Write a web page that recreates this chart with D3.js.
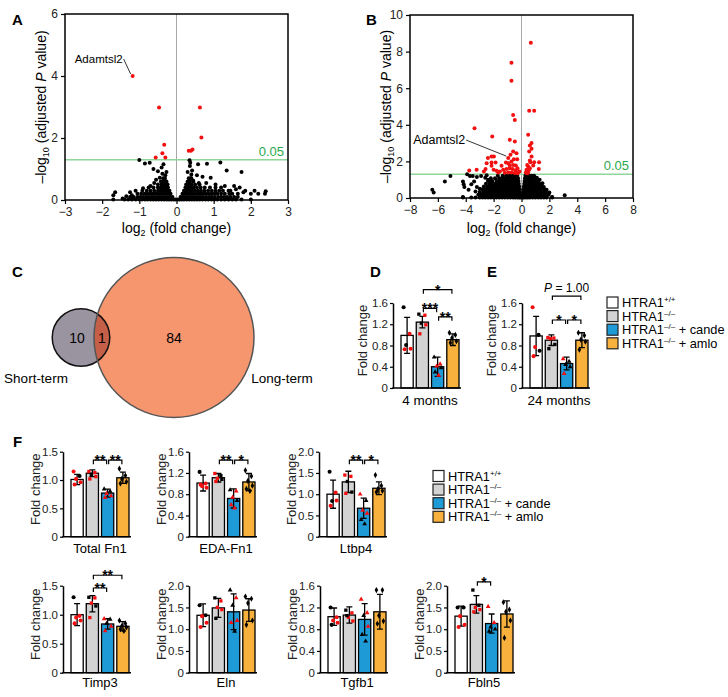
<!DOCTYPE html>
<html>
<head>
<meta charset="utf-8">
<script src="https://cdn.jsdelivr.net/npm/d3@7"></script>
<style>
  body { margin: 0; background: #fff; }
  svg { font-family: "Liberation Sans", Arial, Helvetica, sans-serif; }
</style>
</head>
<body>
<script>
// ---------- A: short-term volcano ----------
const aRed = [[-1.18,4.0],[-0.47,2.98],[0.63,2.98],[0.67,2.02],[-0.33,1.78],[-0.38,1.51],[-0.56,1.37],[-0.30,1.37],[0.33,1.59],[0.39,1.59],[0.43,1.63]];
const aBlack = [[-1.0,1.29],[-0.85,1.18],[-0.72,1.2],[-0.62,1.0],[-0.5,0.93],[-0.4,1.05],[-0.35,1.15],[-0.38,0.85],[-0.3,0.8],[-0.27,0.9],
  [-0.45,0.72],[-0.55,0.65],[-0.6,0.55],[-0.7,0.45],[-0.9,0.38],[-1.1,0.3],[-1.25,0.25],[-1.65,0.25],[-1.7,0.15],[-1.45,0.05],[-1.2,0.15],[-1.35,0.12],
  [0.35,1.28],[0.37,1.2],[0.36,1.1],[0.58,1.15],[0.82,1.17],[1.18,1.21],[0.42,0.95],[0.55,0.8],[0.7,0.75],[0.92,0.72],[1.35,0.95],[1.75,0.9],
  [0.45,0.62],[0.6,0.55],[0.8,0.55],[1.05,0.5],[1.3,0.45],[1.55,0.45],[1.7,0.4],[1.85,0.3],[2.0,0.2],[2.2,0.2],[2.4,0.28],[2.38,0.2],
  [1.65,0.2],[1.8,0.25],[2.1,0.3],[1.6,0.35],[1.45,0.3],[0.4,0.82],[0.3,0.9],[0.38,0.7]];
// dense cloud, one row per -log10 level
const aCoreRows = [
  [0.02, [-1.7,-1.4,-1.3,-1.2,-1.1,-1.0,-0.93,-0.85,-0.78,-0.7,-0.62,-0.55,-0.48,-0.4,-0.33,-0.26,-0.2,-0.14,-0.08,-0.03,0.03,0.08,0.14,0.2,0.27,0.34,0.41,0.48,0.55,0.62,0.7,0.78,0.86,0.94,1.02,1.1,1.2,1.3,1.4,1.5,1.6,1.75,2.0]],
  [0.1, [-1.25,-1.15,-1.05,-0.97,-0.9,-0.82,-0.75,-0.67,-0.6,-0.52,-0.45,-0.38,-0.31,-0.24,-0.17,-0.11,0.11,0.17,0.23,0.3,0.37,0.44,0.51,0.58,0.65,0.72,0.8,0.88,0.95,1.03,1.12,1.2,1.28,1.36,1.45,1.55,1.65]],
  [0.2, [-1.05,-0.95,-0.86,-0.78,-0.7,-0.63,-0.56,-0.49,-0.42,-0.35,-0.28,-0.21,-0.16,0.16,0.21,0.27,0.34,0.41,0.48,0.56,0.63,0.7,0.78,0.86,0.94,1.02,1.1,1.2,1.3,1.42,1.5]],
  [0.3, [-0.92,-0.8,-0.7,-0.6,-0.5,-0.43,-0.36,-0.3,-0.24,-0.19,0.2,0.25,0.3,0.36,0.43,0.5,0.58,0.66,0.75,0.85,0.95,1.05,1.15,1.25,1.4]],
  [0.4, [-0.75,-0.62,-0.5,-0.42,-0.35,-0.29,-0.23,0.24,0.3,0.38,0.46,0.55,0.65,0.76,0.9,1.05,1.2]],
  [0.5, [-0.5,-0.4,-0.33,-0.27,-0.24,0.26,0.32,0.4,0.5,0.62]],
  [0.6, [-0.42,-0.35,-0.3,-0.27,0.3,0.36,0.45]],
  [0.7, [-0.36,-0.31,0.33,0.4]]
];

// ---------- B: long-term volcano ----------
const bRed = [[0.67,8.48],[-0.72,7.39],[-0.72,6.41],[-0.6,4.54],[-0.48,4.26],[0.55,4.77],[0.91,4.77],[-3.37,3.81],[-2.1,3.36],[0.48,3.45],
  [-0.84,3.18],[-0.48,3.09],[0.72,3.0],[0.6,2.87],[0.72,2.69],[0.55,2.54],[-0.6,2.54],[-0.36,2.45],[-0.79,2.36],[-2.15,2.27],[-1.98,2.27],
  [-2.41,2.18],[-0.95,2.18],[-0.55,2.12],[-0.31,2.12],[0.6,2.05],[-2.5,1.9],[-2.15,1.94],[-1.86,1.94],[-0.95,1.9],[-0.72,2.0],[0.64,1.96],
  [0.91,1.96],[1.26,1.96],[-2.15,1.76],[-1.43,1.76],[-1.12,1.94],[-0.6,1.81],[-0.41,1.78],[-0.84,1.78],[0.84,1.78],[0.48,1.72],[-3.75,1.5],
  [-3.22,1.54],[-2.58,1.58],[-1.79,1.49],[-1.55,1.45],[-1.31,1.54],[-1.07,1.58],[-0.84,1.63],[-0.64,1.58],[-0.43,1.5],[-0.29,1.63],[0.36,1.54],
  [0.6,1.63],[1.24,1.58],[-0.95,1.4],[-0.72,1.4],[-0.48,1.36],[-0.24,1.4],[0.31,1.4],[0.48,1.4],[-1.67,1.4],[-2.7,1.45],[0.41,1.81],[0.72,2.27],
  [-1.2,1.38],[-0.3,1.35],[0.4,1.35],[0.55,1.55],[-2.0,1.55],[-0.15,1.45]];
const bBlack = [[-6.4,0.45],[-6.3,0.3],[-5.5,0.9],[-5.1,1.2],[-4.2,0.9],[-4.15,0.75],[-4.1,0.6],[-4.2,0.05],[-3.9,1.3],[-3.7,1.2],[-3.5,1.2],
  [-3.2,1.15],[-3.4,0.9],[-3.6,0.75],[-3.2,0.6],[-3.0,0.5],[-2.8,0.2],[-2.9,1.2],[-2.6,1.1],[-2.4,1.0],[-2.2,0.9],[3.1,0.15],[2.0,0.3],
  [1.8,0.45],[1.6,0.6],[1.9,0.2],[2.2,0.05],[1.5,0.8],[1.3,1.0],[1.1,1.1],[-3.3,0.35],[-3.8,0.45],[-2.5,1.25],[1.4,0.15]];
const bCoreRows = [
  [0.03, [-4.2,-3.6,-3.3,-3.0,-2.8,-2.6,-2.4,-2.2,-2.0,-1.8,-1.6,-1.4,-1.2,-1.0,-0.8,-0.6,-0.45,-0.3,-0.17,-0.07,0.07,0.17,0.3,0.45,0.6,0.8,1.0,1.2,1.4,1.6,1.8,2.2]],
  [0.18, [-3.1,-2.9,-2.7,-2.5,-2.3,-2.1,-1.9,-1.7,-1.5,-1.3,-1.1,-0.9,-0.7,-0.5,-0.35,-0.2,-0.09,0.09,0.2,0.35,0.5,0.7,0.9,1.1,1.3,1.5,1.7,1.95]],
  [0.33, [-3.0,-2.75,-2.55,-2.35,-2.15,-1.95,-1.75,-1.55,-1.35,-1.15,-0.95,-0.75,-0.55,-0.38,-0.24,-0.11,0.11,0.24,0.38,0.55,0.75,0.95,1.15,1.35,1.55,1.75]],
  [0.48, [-2.8,-2.6,-2.4,-2.2,-2.0,-1.8,-1.6,-1.4,-1.2,-1.0,-0.8,-0.6,-0.42,-0.27,-0.14,0.14,0.27,0.42,0.6,0.8,1.0,1.2,1.4,1.65]],
  [0.63, [-2.7,-2.45,-2.25,-2.05,-1.85,-1.65,-1.45,-1.25,-1.05,-0.85,-0.65,-0.47,-0.32,-0.17,0.17,0.3,0.45,0.65,0.85,1.05,1.25,1.45]],
  [0.78, [-2.55,-2.3,-2.1,-1.9,-1.7,-1.5,-1.3,-1.1,-0.9,-0.7,-0.52,-0.36,-0.2,0.2,0.33,0.5,0.7,0.9,1.1,1.3]],
  [0.93, [-2.4,-2.1,-1.8,-1.6,-1.4,-1.2,-1.0,-0.8,-0.62,-0.45,-0.3,-0.22,0.22,0.36,0.5,0.65,0.8,1.0,1.2]],
  [1.08, [-2.2,-1.9,-1.6,-1.4,-1.2,-1.0,-0.8,-0.62,-0.48,-0.36,-0.25,0.25,0.38,0.52,0.68,0.85,1.05]],
  [1.22, [-1.7,-1.35,-1.1,-0.9,-0.72,-0.56,-0.42,-0.3,0.28,0.4,0.55,0.72,0.9]]
];

// ---------- C: Venn ----------
const vennNames = ["Short-term", "Long-term"];
const vennOnly = [10, 84];
const vennShared = 1;

// ---------- D-F: qPCR bars (groups: +/+, -/-, -/- cande, -/- amlo) ----------
const legendSup = ["+/+", "\u2013/\u2013", "\u2013/\u2013", "\u2013/\u2013"];
const legendSuffix = ["", "", " + cande", " + amlo"];

const d4Mean = [0.99, 1.24, 0.40, 0.91], d4Sd = [0.34, 0.11, 0.18, 0.11];
const d4Pts = [[[1.52,"k"],[1.02,"r"],[0.81,"k"],[0.74,"r"],[0.73,"r"]],
  [[1.39,"k"],[1.37,"r"],[1.22,"k"],[1.19,"r"],[1.02,"r"]],
  [[0.58,"k"],[0.45,"r"],[0.41,"r"],[0.38,"k"],[0.30,"k"],[0.24,"r"]],
  [[1.04,"k"],[1.00,"k"],[0.94,"k"],[0.88,"k"],[0.85,"k"]]];
const d4Sig = [[1,2,1.5,"***"],[2,3,1.34,"**"],[1,3,1.85,"*"]];

const e24Mean = [0.98, 0.90, 0.46, 0.90], e24Sd = [0.37, 0.10, 0.12, 0.14];
const e24Pts = [[[1.52,"r"],[1.0,"k"],[0.77,"r"],[0.70,"k"],[0.60,"r"]],
  [[0.95,"r"],[0.94,"r"],[0.93,"r"],[0.82,"k"],[0.74,"k"]],
  [[0.55,"r"],[0.50,"k"],[0.44,"k"],[0.40,"k"],[0.27,"r"]],
  [[1.04,"k"],[0.99,"k"],[0.91,"k"],[0.87,"k"],[0.72,"k"]]];
const e24Sig = [[1,2,1.28,"*"],[2,3,1.28,"*"],[1,3,1.73,"P"]];

const fn1Mean = [1.01, 1.12, 0.77, 1.04], fn1Sd = [0.09, 0.06, 0.07, 0.10];
const fn1Pts = [[[1.15,"r"],[1.07,"k"],[1.02,"r"],[0.96,"r"],[0.92,"r"]],
  [[1.15,"r"],[1.13,"r"],[1.10,"k"],[1.06,"r"],[1.02,"r"]],
  [[0.84,"k"],[0.80,"k"],[0.76,"r"],[0.72,"r"],[0.69,"r"]],
  [[1.20,"k"],[1.08,"k"],[1.02,"k"],[0.97,"k"],[0.94,"k"]]];
const fn1Sig = [[1,2,1.35,"**"],[2,3,1.35,"**"]];

const edaMean = [1.01, 1.11, 0.72, 1.03], edaSd = [0.15, 0.08, 0.18, 0.16];
const edaPts = [[[1.22,"k"],[1.0,"r"],[0.95,"r"],[0.92,"r"],[0.98,"r"]],
  [[1.19,"r"],[1.15,"k"],[1.10,"r"],[1.08,"k"],[1.04,"r"]],
  [[0.88,"k"],[0.86,"r"],[0.74,"r"],[0.68,"k"],[0.60,"r"],[0.54,"r"]],
  [[1.25,"k"],[1.14,"k"],[1.05,"k"],[0.96,"k"],[0.90,"k"],[0.86,"k"]]];
const edaSig = [[1,2,1.44,"**"],[2,3,1.44,"*"]];

const ltbMean = [1.0, 1.29, 0.67, 1.14], ltbSd = [0.33, 0.25, 0.24, 0.15];
const ltbPts = [[[1.53,"k"],[1.04,"r"],[0.84,"k"],[0.85,"r"],[0.73,"r"]],
  [[1.45,"r"],[1.42,"r"],[1.30,"k"],[1.05,"k"],[1.02,"r"]],
  [[1.0,"r"],[0.85,"k"],[0.62,"r"],[0.55,"r"],[0.40,"k"],[0.30,"k"]],
  [[1.45,"k"],[1.20,"k"],[1.12,"k"],[1.08,"k"],[1.05,"k"]]];
const ltbSig = [[1,2,1.8,"**"],[2,3,1.8,"*"]];

const timMean = [1.0, 1.19, 0.84, 0.80], timSd = [0.19, 0.14, 0.09, 0.08];
const timPts = [[[1.30,"k"],[0.98,"r"],[0.95,"r"],[0.90,"r"],[0.85,"r"]],
  [[1.30,"k"],[1.29,"r"],[1.20,"r"],[1.15,"k"],[0.95,"r"]],
  [[0.93,"r"],[0.92,"k"],[0.85,"k"],[0.80,"r"],[0.72,"r"]],
  [[0.90,"k"],[0.85,"k"],[0.81,"k"],[0.78,"k"],[0.75,"k"],[0.72,"k"]]];
const timSig = [[1,2,1.46,"**"],[1,3,1.68,"**"]];

const elnMean = [1.32, 1.49, 1.40, 1.44], elnSd = [0.26, 0.22, 0.41, 0.26];
const elnPts = [[[1.55,"k"],[1.32,"k"],[1.30,"r"],[1.15,"r"],[1.05,"r"]],
  [[1.72,"k"],[1.65,"r"],[1.50,"r"],[1.45,"r"],[1.25,"k"]],
  [[1.90,"k"],[1.72,"r"],[1.55,"k"],[1.20,"r"],[1.15,"r"],[0.95,"k"]],
  [[1.75,"k"],[1.70,"k"],[1.60,"k"],[1.20,"k"],[1.10,"k"]]];

const tgfMean = [1.03, 1.06, 0.98, 1.12], tgfSd = [0.16, 0.15, 0.29, 0.32];
const tgfPts = [[[1.20,"k"],[1.02,"r"],[0.96,"r"],[0.92,"r"],[0.88,"k"]],
  [[1.15,"k"],[1.10,"r"],[1.02,"r"],[0.95,"r"],[1.05,"k"]],
  [[1.35,"r"],[1.10,"r"],[1.05,"k"],[0.85,"r"],[0.70,"k"],[0.58,"k"]],
  [[1.52,"k"],[1.52,"k"],[1.05,"k"],[0.95,"k"],[0.90,"k"]]];

const fblMean = [1.30, 1.57, 1.13, 1.35], fblSd = [0.23, 0.20, 0.22, 0.30];
const fblPts = [[[1.50,"k"],[1.50,"k"],[1.30,"r"],[1.10,"r"],[1.05,"r"]],
  [[1.90,"k"],[1.55,"k"],[1.50,"r"],[1.45,"r"],[1.40,"r"]],
  [[1.52,"r"],[1.15,"r"],[1.05,"k"],[1.00,"k"],[0.95,"k"]],
  [[1.62,"k"],[1.45,"k"],[1.40,"k"],[1.20,"k"],[0.80,"k"]]];
const fblSig = [[1,2,2.09,"*"]];

const ticks15 = [0, 0.5, 1.0, 1.5], ticks16 = [0, 0.4, 0.8, 1.2, 1.6], ticks20 = [0, 0.5, 1.0, 1.5, 2.0];

// ---------- drawing ----------
const svg = d3.select("body").append("svg").attr("width", 728).attr("height", 697);
const groupFill = ["#ffffff", "#d3d3d3", "#1e9bd7", "#f7b13c"];
const groupShape = [d3.symbolCircle, d3.symbolSquare, d3.symbolTriangle, d3.symbolDiamond];
const groupSize = [13, 11, 10, 11];
const jit = [-3.5, 2.5, -1, 3.5, -2.5, 1];

function volcano(o) {
  const g = svg.append("g");
  const x = d3.scaleLinear().domain(o.xDom).range([o.left, o.right]);
  const y = d3.scaleLinear().domain(o.yDom).range([o.bottom, o.top]);
  g.append("line").attr("x1", x(0)).attr("x2", x(0)).attr("y1", o.top).attr("y2", o.bottom)
    .attr("stroke", "#a8a8a8").attr("stroke-width", 1);
  const thr = -Math.log10(0.05);
  g.append("line").attr("x1", o.left).attr("x2", o.right).attr("y1", y(thr)).attr("y2", y(thr))
    .attr("stroke", "#8fd69a").attr("stroke-width", 1.5);
  g.append("text").attr("x", o.right - 4).attr("y", y(thr) - 4).attr("text-anchor", "end")
    .attr("fill", "#2aa84a").attr("font-size", 13).text("0.05");

  const blacks = o.black.concat(o.rows.flatMap(([yy, xs]) => xs.map(v => [v, yy])));
  g.selectAll(null).data(blacks).join("circle")
    .attr("cx", d => x(d[0])).attr("cy", d => y(d[1])).attr("r", 2.0).attr("fill", "#000");
  g.selectAll(null).data(o.red).join("circle")
    .attr("cx", d => x(d[0])).attr("cy", d => y(d[1])).attr("r", 2.0).attr("fill", "#f21010");

  // gene label with leader line
  const px = x(o.label[0]), py = y(o.label[1]);
  g.append("text").attr("x", px + o.labDx).attr("y", py + o.labDy).attr("text-anchor", "end")
    .attr("font-size", o.labSize).text("Adamtsl2");
  g.append("line").attr("x1", px + o.labDx + 1).attr("y1", py + o.labDy - 4)
    .attr("x2", px - 2).attr("y2", py - 2).attr("stroke", "#000").attr("stroke-width", 0.8);

  g.append("rect").attr("x", o.left).attr("y", o.top).attr("width", o.right - o.left)
    .attr("height", o.bottom - o.top).attr("fill", "none").attr("stroke", "#000").attr("stroke-width", 1.5);

  const ax = g.append("g").attr("transform", `translate(0,${o.bottom})`)
    .call(d3.axisBottom(x).tickValues(o.xTicks).tickSize(4).tickSizeOuter(0).tickFormat(d3.format("d")));
  const ay = g.append("g").attr("transform", `translate(${o.left},0)`)
    .call(d3.axisLeft(y).tickValues(o.yTicks).tickSize(4).tickSizeOuter(0).tickFormat(d3.format("d")));
  [ax, ay].forEach(a => {
    a.select(".domain").remove();
    a.selectAll("line").attr("stroke-width", 1.2);
    a.selectAll("text").attr("font-size", 12).attr("font-family", null).attr("fill", "#222");
  });

  const cx = (o.left + o.right) / 2;
  const xl = g.append("text").attr("x", cx).attr("y", 233).attr("text-anchor", "middle").attr("font-size", 14);
  xl.append("tspan").text("log");
  xl.append("tspan").attr("dy", 3).attr("font-size", 9).text("2");
  xl.append("tspan").attr("dy", -3).text(" (fold change)");

  const yl = g.append("text").attr("transform", `translate(${o.ylx},${(o.top + o.bottom) / 2}) rotate(-90)`)
    .attr("text-anchor", "middle").attr("dy", 5).attr("font-size", 14);
  yl.append("tspan").text("\u2013log");
  yl.append("tspan").attr("dy", 3).attr("font-size", 9).text("10");
  yl.append("tspan").attr("dy", -3).text(" (adjusted ");
  yl.append("tspan").attr("font-style", "italic").text("P");
  yl.append("tspan").text(" value)");
}

volcano({ left: 65, right: 288, top: 14, bottom: 200, xDom: [-3, 3], yDom: [0, 6],
  xTicks: d3.range(-3, 4), yTicks: [0, 2, 4, 6], ylx: 41,
  black: aBlack, rows: aCoreRows, red: aRed, label: aRed[0], labDx: -10, labDy: -13, labSize: 11.5 });
volcano({ left: 410, right: 633, top: 15, bottom: 198, xDom: [-8, 8], yDom: [0, 10],
  xTicks: d3.range(-8, 9, 2), yTicks: [0, 2, 4, 6, 8, 10], ylx: 386,
  black: bBlack, rows: bCoreRows, red: bRed, label: [-0.95, 2.18], labDx: -43, labDy: -14, labSize: 12.5 });

// Venn (circle area proportional to set size)
(function venn() {
  const g = svg.append("g");
  const totals = [vennOnly[0] + vennShared, vennOnly[1] + vennShared];
  const r = d3.scaleSqrt().domain([0, d3.max(totals)]).range([0, 80]);
  const cy = 337.5, cxs = [81, 174];
  const rs = totals.map(r);
  const defs = svg.append("defs");
  defs.append("clipPath").attr("id", "smallClip").append("circle").attr("cx", cxs[0]).attr("cy", cy).attr("r", rs[0]);
  g.append("circle").attr("cx", cxs[1]).attr("cy", cy).attr("r", rs[1]).attr("fill", "#f5966f");
  g.append("circle").attr("cx", cxs[0]).attr("cy", cy).attr("r", rs[0]).attr("fill", "#9a93a0");
  g.append("circle").attr("cx", cxs[1]).attr("cy", cy).attr("r", rs[1]).attr("fill", "#c55f47").attr("clip-path", "url(#smallClip)");
  g.append("circle").attr("cx", cxs[0]).attr("cy", cy).attr("r", rs[0]).attr("fill", "none").attr("stroke", "#111").attr("stroke-width", 1.5);
  g.append("circle").attr("cx", cxs[1]).attr("cy", cy).attr("r", rs[1]).attr("fill", "none").attr("stroke", "#555").attr("stroke-width", 1.5);
  const lens = ((cxs[1] - rs[1]) + (cxs[0] + rs[0])) / 2;
  const nums = [[cxs[0] - 4, vennOnly[0]], [lens, vennShared], [cxs[1], vennOnly[1]]];
  g.selectAll(null).data(nums).join("text").attr("x", d => d[0]).attr("y", cy + 5)
    .attr("text-anchor", "middle").attr("font-size", 14).text(d => d[1]);
  g.append("text").attr("x", 36).attr("y", 383).attr("text-anchor", "middle").attr("font-size", 13.5).text(vennNames[0]);
  g.append("text").attr("x", 282).attr("y", 383).attr("text-anchor", "middle").attr("font-size", 13.5).text(vennNames[1]);
})();

function barPanel(p) {
  const g = svg.append("g");
  const y = d3.scaleLinear().domain([0, p.max]).range([p.bottom, p.top]);
  const x = d3.scaleBand().domain(d3.range(4)).range([p.ax + 8, p.ax + 66]).paddingInner(0.2);
  const bw = x.bandwidth();
  const fmt = d => d === 0 ? "0" : d3.format(".1f")(d);

  g.selectAll(null).data(p.mean).join("rect")
    .attr("x", (d, i) => x(i)).attr("y", d => y(d)).attr("width", bw).attr("height", d => p.bottom - y(d))
    .attr("fill", (d, i) => groupFill[i]).attr("stroke", "#000").attr("stroke-width", 1.3);

  p.mean.forEach((m, i) => {
    const cx = x(i) + bw / 2, s = p.sd[i];
    g.append("path")
      .attr("d", `M${cx},${y(m + s)}V${y(m - s)}M${cx - 3},${y(m + s)}H${cx + 3}M${cx - 3},${y(m - s)}H${cx + 3}`)
      .attr("stroke", "#000").attr("stroke-width", 1.3).attr("fill", "none");
  });

  p.pts.forEach((arr, i) => {
    const cx = x(i) + bw / 2;
    g.selectAll(null).data(arr).join("path")
      .attr("transform", (d, k) => `translate(${cx + jit[k % jit.length]},${y(d[0])})`)
      .attr("d", d3.symbol(groupShape[i], groupSize[i])())
      .attr("fill", d => d[1] === "r" ? "#f21010" : "#000");
  });

  const a = g.append("g").attr("transform", `translate(${p.ax},0)`)
    .call(d3.axisLeft(y).tickValues(p.ticks).tickSize(3).tickSizeOuter(0).tickFormat(fmt));
  a.select(".domain").attr("stroke-width", 1.5);
  a.selectAll("line").attr("stroke-width", 1.2);
  a.selectAll("text").attr("font-size", 11.5).attr("font-family", null).attr("fill", "#222").attr("x", -5);
  g.append("line").attr("x1", p.ax - 0.75).attr("x2", p.ax + 68).attr("y1", p.bottom).attr("y2", p.bottom)
    .attr("stroke", "#000").attr("stroke-width", 1.5);

  g.append("text").attr("transform", `translate(${p.ax + (p.ylDx || -23)},${(p.top + p.bottom) / 2 - 5}) rotate(-90)`)
    .attr("text-anchor", "middle").attr("font-size", 13).attr("fill", "#222").text("Fold change");
  g.append("text").attr("x", p.ax + 37).attr("y", p.bottom + p.labDy).attr("text-anchor", "middle")
    .attr("font-size", p.labSize || 13.5).text(p.label);

  (p.sig || []).forEach(([i, j, v, t]) => {
    const x1 = x(i) + bw / 2 + 1, x2 = x(j) + bw / 2 - 1, yy = y(v);
    g.append("path").attr("d", `M${x1},${yy + 4}V${yy}H${x2}V${yy + 4}`)
      .attr("stroke", "#000").attr("stroke-width", 1.2).attr("fill", "none");
    if (t === "P") {
      const tx = g.append("text").attr("x", (x1 + x2) / 2).attr("y", yy - 4).attr("text-anchor", "middle").attr("font-size", 12);
      tx.append("tspan").attr("font-style", "italic").text("P");
      tx.append("tspan").text(" = 1.00");
    } else {
      g.append("text").attr("x", (x1 + x2) / 2).attr("y", yy + 5).attr("text-anchor", "middle")
        .attr("font-size", 14).attr("font-weight", "bold").text(t);
    }
  });
}

function legend(lx, ly) {
  const g = svg.append("g");
  legendSup.forEach((s, i) => {
    const cy = ly + i * 13.6;
    g.append("rect").attr("x", lx).attr("y", cy - 5.5).attr("width", 11).attr("height", 11)
      .attr("fill", groupFill[i]).attr("stroke", "#222").attr("stroke-width", 1.2);
    const t = g.append("text").attr("x", lx + 15).attr("y", cy + 4.5).attr("font-size", 12.8);
    t.append("tspan").text("HTRA1");
    t.append("tspan").attr("dy", -5).attr("font-size", 8).text(s);
    t.append("tspan").attr("dy", 5).text(legendSuffix[i]);
  });
}

// D, E
barPanel({ ax: 393, top: 303, bottom: 388, max: 1.6, ticks: ticks16, mean: d4Mean, sd: d4Sd, pts: d4Pts, sig: d4Sig, label: "4 months", labDy: 17, ylDx: -26 });
barPanel({ ax: 522, top: 303, bottom: 388, max: 1.6, ticks: ticks16, mean: e24Mean, sd: e24Sd, pts: e24Pts, sig: e24Sig, label: "24 months", labDy: 17, ylDx: -26 });
legend(607, 302.5);

// F top row
const fTop = 451.7, fBot = 536.7, gTop = 585.7, gBot = 672.7;
barPanel({ ax: 63, top: fTop, bottom: fBot, max: 1.5, ticks: ticks15, mean: fn1Mean, sd: fn1Sd, pts: fn1Pts, sig: fn1Sig, label: "Total Fn1", labDy: 16.5, labSize: 13 });
barPanel({ ax: 189, top: fTop, bottom: fBot, max: 1.6, ticks: ticks16, mean: edaMean, sd: edaSd, pts: edaPts, sig: edaSig, label: "EDA-Fn1", labDy: 16.5, labSize: 13 });
barPanel({ ax: 319, top: fTop, bottom: fBot, max: 2.0, ticks: ticks20, mean: ltbMean, sd: ltbSd, pts: ltbPts, sig: ltbSig, label: "Ltbp4", labDy: 16.5, labSize: 13 });
legend(433, 476);
// F bottom row
barPanel({ ax: 63, top: gTop, bottom: gBot, max: 1.5, ticks: ticks15, mean: timMean, sd: timSd, pts: timPts, sig: timSig, label: "Timp3", labDy: 14.5, labSize: 13 });
barPanel({ ax: 189, top: gTop, bottom: gBot, max: 2.0, ticks: ticks20, mean: elnMean, sd: elnSd, pts: elnPts, label: "Eln", labDy: 14.5, labSize: 13 });
barPanel({ ax: 320, top: gTop, bottom: gBot, max: 1.6, ticks: ticks16, mean: tgfMean, sd: tgfSd, pts: tgfPts, label: "Tgfb1", labDy: 14.5, labSize: 13 });
barPanel({ ax: 447, top: gTop, bottom: gBot, max: 2.0, ticks: ticks20, mean: fblMean, sd: fblSd, pts: fblPts, sig: fblSig, label: "Fbln5", labDy: 14.5, labSize: 13 });

// panel letters
[["A", 12, 25], ["B", 366, 25], ["C", 12, 277], ["D", 370, 277], ["E", 487, 277], ["F", 13, 447]].forEach(([t, x, y]) =>
  svg.append("text").attr("x", x).attr("y", y).attr("font-size", 15).attr("font-weight", "bold").text(t));
</script>
</body>
</html>
